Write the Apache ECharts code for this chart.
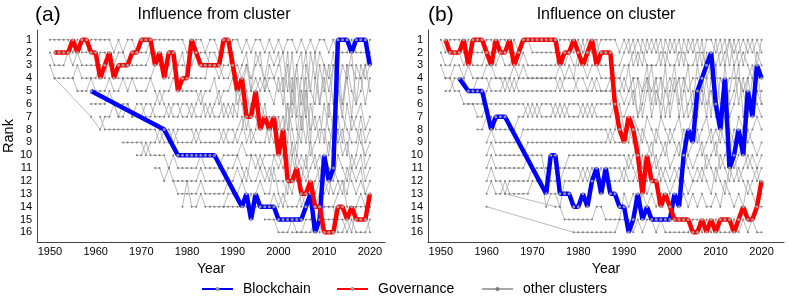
<!DOCTYPE html>
<html><head><meta charset="utf-8">
<script src="https://cdn.jsdelivr.net/npm/echarts@6/dist/echarts.min.js"></script>
<style>html,body{margin:0;padding:0;background:#fff}#c{width:789px;height:303px}</style>
</head><body><div id="c"></div>
<script>
// ---------- DATA ----------
const xTickYears = [1950,1960,1970,1980,1990,2000,2010,2020];
const rankTicks = [1,2,3,4,5,6,7,8,9,10,11,12,13,14,15,16];

// Panel (a): Influence from cluster
const leftGovStart = 1951;
const leftGovRank = [2,2,2,2,1,2,1,1,2,2, 4,3,2,4,3,3,3,2,2,1, 1,1,3,2,4,2,2,5,4,4, 1,2,3,3,3,3,3,1,1,3, 5,4,7,7,5,8,7,8,7,10, 8,12,12,11,13,13,12,14,14,16, 16,16,14,14,15,14,15,15,15,13];
const leftChainYears = [1959,1975,1978,1979,1980,1981,1982,1983,1984,1985,1986,1992,1993,1994,1995,1996,1997,1998,1999,2000,2001,2002,2003,2004,2005,2006,2007,2008,2009,2010,2011,2012,2013,2014,2015,2016,2017,2018,2019,2020];
const leftChainRank = [5,8,10,10,10,10,10,10,10,10,10,14,13,15,13,14,14,14,14,15,15,15,15,15,15,14,13,16,15,10,12,11,1,1,1,2,1,1,1,3];

const leftOtherStart = [1950,1950,1950,1951,1955,1959,1961,1966,1969,1973,1977,1979,1988,1997,2003];
const leftOther01 = [1,1,1,1,1,2,1,2,2,1, 1,1,1,1,2,1,2,1,1,2, 2,2,1,1,1,1,1,1,1,1, 2,2,1,1,2,1,1,2,2,2, 1,1,2,1,2,1,1,2,1,2, 1,2,1,1,2,1,2,1,2,1, 1,2,1,2,2,2,1,2,2,2, 1];
const leftOther02 = [2,3,3,3,2,3,2,3,3,3, 3,2,2,3,3,2,2,3,3,3, 3,3,2,2,3,3,3,2,3,3, 3,3,2,2,2,3,3,4,3,3, 2,4,3,2,5,2,3,4,2,3, 2,5,2,6,3,2,7,2,4,2, 3,5,3,3,6,3,3,4,4,3, 2];
const leftOther03 = [3,4,4,4,4,4,3,4,4,4, 4,3,4,2,4,4,4,4,4,4, 4,4,4,3,2,3,4,3,3,2, 4,4,4,4,4,2,2,3,4,4, 3,3,4,3,4,3,2,5,4,4, 3,2,5,2,7,4,2,5,2,6, 3,4,2,5,3,4,2,6,3,4, 3];
const leftOther04 = [4,null,null,null,null,null,null,null,7,null,8, 7,7,6,7,6,6,7,6, 6,7,7,6,5,6,7,6,6,7, 7,6,7,7,6,7,6,5,7,6, 7,5,6,8,6,7,8,6,8,9, 7,9,6,8,10,7,9,6,8,7, 9,6,8,7,9,6,8,7,6,8, 7];
const leftOther05 = [4,5,5,5,4, 5,5,5,4,5,5,4,5,4,5, 5,5,4,5,6,5,5,4,4,5, 5,5,5,6,5,5,4,6,5,5, 4,6,5,3,5,4,5,4,5,6, 4,6,3,7,4,8,3,5,6,3, 5,3,6,4,7,3,5,6,5,3, 5];
const leftOther06 = [6, 6,6,6,5,6,7,7,6,7,7, 7,6,6,7,7,7,6,7,7,6, 6,7,6,5,7,6,7,7,6,7, 6,7,4,5,7,5,4,5,3,4, 5,4,8,5,3,6,4,9,4,6, 4,7,3,5,6,4,7,3,4,6, 4];
const leftOther07 = [7,8,8,8,8,8,8,8,8, 8,8,8,8,9,8,8,9,8,8, 8,8,9,8,8,8,8,8,9,8, 8,9,8,6,9,8,6,7,9,7, 8,7,9,4,8,9,5,8,7,9, 6,8,9,5,7,8,9,9,7,9, 8];
const leftOther08 = [9,9,9,9, 9,10,9,9,8,9,9,8,9,9, 9,9,8,9,9,9,9,9,8,9, 9,8,7,9,8,9,9,9,7,8, 9,8,6,10,9,5,7,10,9,8, 8,10,7,9,8,10,7,8,9,10, 9];
const leftOther09 = [10, 10,9,10,10,10,10,11,10,11,11, 11,11,11,10,11,11,11,11,10,10, 10,10,9,10,10,10,11,10,10,10, 11,10,11,9,11,10,11,9,11,10, 11,9,10,8,10,9,11,10,8,11, 10];
const leftOther10 = [11,11,12,11,12,12,12, 12,12,12,11,12,12,12,12,12,11, 11,10,11,12,10,11,10,11,12,10, 10,11,10,12,10,11,12,11,10,12, 10,11,12,10,11,12,10,11,10,12, 11];
const leftOther11 = [12,13,13, 13,13,13,12,13,13,13,13,13,12, 12,11,12,11,12,12,11,12,11,12, 12,12,13,10,12,12,10,13,12,11, 12,13,11,12,12,13,11,12,11,13, 12];
const leftOther12 = [14, 12,14,14,13,14,14,14,14,14,13, 13,13,12,13,14,13,12,13,13,11, 13,14,12,13,11,14,13,12,13,12, 13,12,13,12,13,11,12,13,12,13, 14];
const leftOther13 = [14,14, 14,14,14,14,13,14,14,14,14,13, 14,13,14,14,14,13,14,14,14,13, 14,14,14,13,12,14,14,14,13,14, 14];
const leftOther14 = [15,15,15, 16,16,16,15,16,16,15,15,15,15, 15,15,15,15,15,16,15,16,16,16, 15];
const leftOther15 = [16,16,16,16,16,15,16, 14,14,14,16,16,15,16,14,14,14, 16];

// Panel (b): Influence on cluster
const rightGovStart = 1951;
const rightGovRank = [1,2,2,2,1,3,1,1,1,2, 3,1,2,2,1,3,2,1,1,1, 1,1,1,1,1,3,2,2,1,2, 3,2,1,3,2,2,2,6,8,9, 7,8,10,13,10,12,12,14,13,14, 15,15,15,15,16,16,15,16,15,16, 15,15,15,16,15,14,15,15,14,12];
const rightChainYears = [1954,1956,1957,1958,1959,1961,1962,1963,1964,1973,1974,1975,1976,1977,1978,1979,1980,1981,1982,1983,1984,1985,1986,1987,1988,1989,1990,1991,1992,1993,1994,1995,1996,1997,1998,1999,2000,2001,2002,2003,2004,2005,2006,2007,2008,2009,2010,2011,2012,2013,2014,2015,2016,2017,2018,2019,2020];
const rightChainRank = [4,5,5,5,5,8,7,7,7,13,10,10,13,13,13,14,14,13,14,12,11,13,11,13,13,14,14,16,15,13,15,14,15,15,15,15,15,13,14,10,8,9,5,4,3,2,6,8,4,11,10,8,10,5,7,3,4];

const rightOtherStart = [1950,1950,1950,1951,1951,1956,1958,1960,1960,1960,1960,1960,1964,1960];
const rightOther01 = [1,2,1,1,1,2,1,2,2,2, 1,1,2,1,1,2,1,2,1,1, 2,2,2,2,2,2,1,1,1,2, 1,2,1,2,2,1,1,1,1,2, 1,2,1,3,1,2,1,2,1,3, 1,2,1,3,1,2,1,3,1,1, 2,1,3,1,2,1,3,1,2,1, 2];
const rightOther02 = [2,3,3,2,2,3,2,3,3,3, 2,2,3,2,3,3,2,3,2,3, 3,3,3,3,3,3,2,3,2,3, 3,1,3,1,1,3,3,3,3,3, 2,1,3,2,3,1,2,1,3,1, 2,1,3,1,2,1,3,1,4,3, 1,3,2,1,3,2,1,2,1,3, 1];
const rightOther03 = [3,4,4,3,3,4,3,4,4,4, 3,3,4,4,4,4,3,4,3,4, 4,4,4,4,4,4,3,4,3,4, 2,3,4,3,3,4,4,4,4,4, 3,3,2,1,2,3,3,3,2,2, 3,3,2,2,3,3,2,2,3,2, 3,2,1,3,1,3,2,3,4,2, 3];
const rightOther04 = [5,5,4,4,4,5,5,4,4, 4,5,5,5,4,5,4,5,5,5, 5,5,5,5,5,5,4,5,5,5, 4,4,5,4,5,5,5,4,5,5, 4,5,4,4,5,4,5,4,4,5, 4,5,4,4,5,4,4,5,2,4, 4,4,5,4,4,4,5,4,3,5, 5];
const rightOther05 = [4,4,5,5,6,6,6,6,6, 5,4,4,4,5,4,5,4,4,4, 4,4,4,4,4,4,5,4,4,4, 5,5,5,5,4,5,5,5,4,4, 5,3,6,4,7,5,3,6,4,7, 5,3,6,4,7,6,3,5,7,4, 5,7,3,6,5,3,7,4,6,5, 6];
const rightOther06 = [6,6,7,7, 6,6,6,6,6,6,6,6,6,7, 6,7,6,6,6,7,6,7,6,6, 6,7,6,7,6,6,6,6,5,5, 6,5,4,7,5,3,6,4,7,5, 6,4,7,5,3,7,5,6,4,7, 3,6,7,5,3,6,4,6,7,3, 6];
const rightOther07 = [8,8, 7,7,8,8,8,8,8,7,7,6, 7,6,7,7,7,6,7,6,7,7, 7,6,7,6,7,7,7,7,6,7, 7,6,5,7,6,4,7,5,6,3, 7,5,4,7,6,5,7,4,6,5, 7,4,5,7,6,4,5,7,4,6, 7];
const rightOther08 = [9,8,9,9,9,9,9,9,8,8, 8,8,8,8,8,8,8,8,8,8, 8,8,8,8,8,8,8,9,8,6, 8,9,7,8,9,7,8,9,7,8, 9,8,7,9,8,7,9,8,7,9, 8,9,7,8,9,7,8,9,8,7, 8];
const rightOther09 = [10,9,10,10,10,10,10,10,10,9, 9,9,9,9,9,9,9,9,9,9, 9,9,9,9,9,9,9,8,9,9, 9,8,9,10,8,9,10,8,9,10, 8,9,10,8,10,9,8,10,9,8, 10,8,9,10,8,9,10,8,9,10, 9];
const rightOther10 = [11,10,11,11,11,11,11,11,11,10, 10,10,10,12,11,11,11,11,10,10, 10,10,10,10,10,10,10,10,10,10, 10,11,10,9,11,10,9,11,10,9, 11,10,9,11,10,11,10,9,11,10, 9,11,10,9,11,10,9,11,10,11, 10];
const rightOther11 = [12,11,12,12,13,12,12,12,12,12, 11,11,11,11,12,12,12,11,11,11, 11,12,11,12,11,12,11,11,11,11, 12,10,11,12,10,12,11,10,12,11, 12,11,12,10,11,12,11,12,10,11, 12,10,11,12,10,12,11,10,11,12, 11];
const rightOther12 = [13,12,13,13,12,13,13,13,13,13, 12,12,12,14,13,13,14,12,12,12, 12,11,12,11,12,11,12,12,12,12, 11,12,12,11,12,13,12,12,11,12, 13,12,11,12,13,12,12,11,12,13, 11,12,13,11,12,11,12,13,12,11, 13];
const rightOther13 = [13, null,null,null,null,null,null,null,null,null,null, 14,14,15,15,15, 15,15,15,15,14,14,15,15,15,15, 13,14,13,14,13,14,13,14,13,13, 14,13,14,13,14,13,14,13,14,14, 13,14,12,13,14,13,14,12,13,14, 14];
const rightOther14 = [14, null,null,null,null,null,null,null,null,null,null,null,null,null,null,null,null,null,null, 16, 16,16,16,16,16,16,16,16,16,15, 15,15,16,15,16,15,15,16,15,16, 16,16,16,16,16,15,15,16,15,16, 15,16,16,16,15,16,15,16,15,16, 16];

const leftOthers = [leftOther01,leftOther02,leftOther03,leftOther04,leftOther05,leftOther06,leftOther07,leftOther08,leftOther09,leftOther10,leftOther11,leftOther12,leftOther13,leftOther14,leftOther15];
const rightOthers = [rightOther01,rightOther02,rightOther03,rightOther04,rightOther05,rightOther06,rightOther07,rightOther08,rightOther09,rightOther10,rightOther11,rightOther12,rightOther13,rightOther14];

// ---------- BUILD ----------
function fromStart(start, ranks) {
  const out = [];
  ranks.forEach((r, i) => { if (r != null && start + i <= 2020) out.push([start + i, r]); });
  return out;
}
function zipYears(years, ranks) { return years.map((y, i) => [y, ranks[i]]); }

const FONT = '"Liberation Sans", Arial, Helvetica, sans-serif';
const series = [];
function addPanel(idx, others, starts, govStart, govRank, chainYears, chainRank) {
  others.forEach((arr, k) => {
    series.push({
      name: 'other clusters', type: 'line', xAxisIndex: idx, yAxisIndex: idx,
      data: fromStart(starts[k], arr), symbol: 'circle', symbolSize: 2, showSymbol: true,
      lineStyle: { color: '#a8a8a8', width: 0.8 }, itemStyle: { color: '#7a7a7a' },
      z: 1, silent: true, emphasis: { disabled: true }
    });
  });
  series.push({
    name: 'Blockchain', type: 'line', xAxisIndex: idx, yAxisIndex: idx,
    data: zipYears(chainYears, chainRank), symbol: 'circle', symbolSize: 3,
    lineStyle: { color: '#0000ff', width: 4.5 }, itemStyle: { color: '#8e8ea6' },
    z: 3, silent: true, emphasis: { disabled: true }
  });
  series.push({
    name: 'Governance', type: 'line', xAxisIndex: idx, yAxisIndex: idx,
    data: fromStart(govStart, govRank), symbol: 'circle', symbolSize: 3,
    lineStyle: { color: '#ff0000', width: 4.5 }, itemStyle: { color: '#a89898' },
    z: 4, silent: true, emphasis: { disabled: true }
  });
}
addPanel(0, leftOthers, leftOtherStart, leftGovStart, leftGovRank, leftChainYears, leftChainRank);
addPanel(1, rightOthers, rightOtherStart, rightGovStart, rightGovRank, rightChainYears, rightChainRank);

function xAxis(idx, maxV) {
  return {
    type: 'value', gridIndex: idx, min: 1947.2, max: maxV,
    axisLine: { show: true, lineStyle: { color: '#444', width: 1 } },
    axisTick: { show: false }, splitLine: { show: false },
    axisLabel: { customValues: xTickYears, fontSize: 11, color: '#000', margin: 4, fontFamily: FONT,
                 formatter: v => String(Math.round(v)) },
    name: 'Year', nameLocation: 'middle', nameGap: 16,
    nameTextStyle: { fontSize: 14, color: '#000', fontFamily: FONT }
  };
}
function yAxis(idx, withName) {
  const a = {
    type: 'value', gridIndex: idx, inverse: true, min: 0.25, max: 16.75,
    axisLine: { show: true, lineStyle: { color: '#444', width: 1 } },
    axisTick: { show: false }, splitLine: { show: false },
    axisLabel: { customValues: rankTicks, fontSize: 11, color: '#000', margin: 5, fontFamily: FONT,
                 formatter: v => String(Math.round(v)) }
  };
  if (withName) {
    a.name = 'Rank'; a.nameLocation = 'middle'; a.nameGap = 21; a.nameRotate = 90;
    a.nameTextStyle = { fontSize: 14.5, color: '#000', fontFamily: FONT };
  }
  return a;
}
function legendItem(name, left) {
  return {
    data: [name], left: left, top: 277, itemWidth: 31, itemHeight: 5, selectedMode: false,
    textStyle: { fontSize: 14, color: '#000', fontFamily: FONT, padding: [0, 0, 0, 5] }
  };
}
function txt(t, x, size, align) {
  return { type: 'text', x: x, y: 15, silent: true,
    style: { text: t, font: size + 'px ' + FONT, fill: '#000', align: align, verticalAlign: 'middle',
             textAlign: align, textVerticalAlign: 'middle' } };
}

const chart = echarts.init(document.getElementById('c'), null, { renderer: 'canvas' });
chart.setOption({
  animation: false,
  backgroundColor: '#ffffff',
  textStyle: { fontFamily: FONT },
  grid: [
    { left: 37, top: 30, width: 348, height: 212 },
    { left: 428, top: 30, width: 356, height: 212 }
  ],
  xAxis: [xAxis(0, 2023.3), xAxis(1, 2024.9)],
  yAxis: [yAxis(0, true), yAxis(1, false)],
  legend: [legendItem('Blockchain', 196), legendItem('Governance', 331), legendItem('other clusters', 476)],
  graphic: [
    txt('(a)', 35, 21, 'left'),
    txt('Influence from cluster', 214, 16, 'center'),
    txt('(b)', 428, 21, 'left'),
    txt('Influence on cluster', 606, 16, 'center')
  ],
  series: series
});
</script>
</body></html>
